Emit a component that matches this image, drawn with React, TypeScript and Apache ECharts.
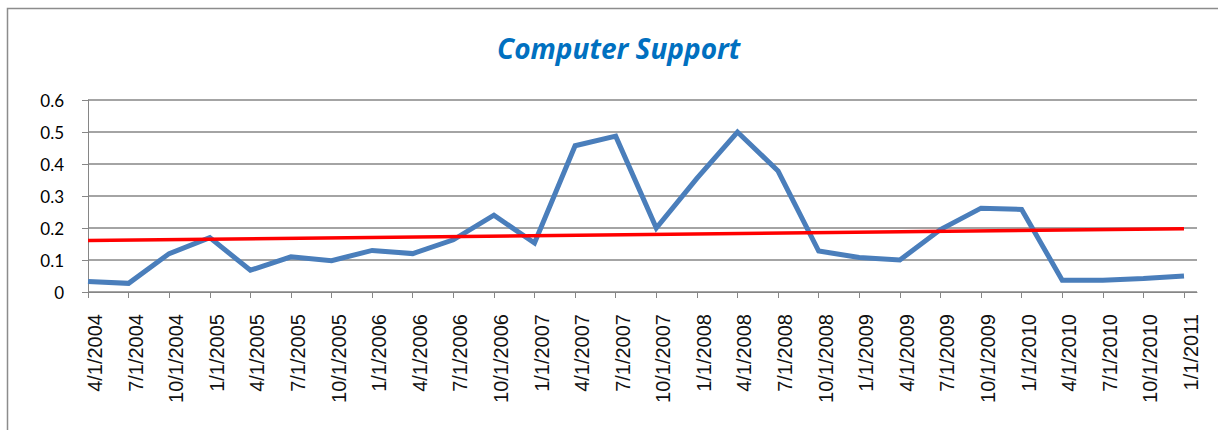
import React, { useEffect, useRef } from "react";
import * as echarts from "echarts";

const categories = [
  "4/1/2004", "7/1/2004", "10/1/2004", "1/1/2005", "4/1/2005", "7/1/2005", "10/1/2005",
  "1/1/2006", "4/1/2006", "7/1/2006", "10/1/2006", "1/1/2007", "4/1/2007", "7/1/2007",
  "10/1/2007", "1/1/2008", "4/1/2008", "7/1/2008", "10/1/2008", "1/1/2009", "4/1/2009",
  "7/1/2009", "10/1/2009", "1/1/2010", "4/1/2010", "7/1/2010", "10/1/2010", "1/1/2011",
];

const supportValues = [
  0.033, 0.027, 0.12, 0.17, 0.068, 0.11, 0.098,
  0.13, 0.12, 0.163, 0.24, 0.153, 0.457, 0.487,
  0.2, 0.355, 0.5, 0.378, 0.128, 0.108, 0.1,
  0.195, 0.262, 0.258, 0.037, 0.037, 0.042, 0.05,
];

const trendStart = 0.161;
const trendEnd = 0.198;

const yTicks = [0, 0.1, 0.2, 0.3, 0.4, 0.5, 0.6];

export default function App() {
  const ref = useRef<HTMLDivElement>(null);

  useEffect(() => {
    if (!ref.current) return;
    const chart = echarts.init(ref.current, null, { renderer: "svg" });
    const gridTop = 100;
    const gridHeight = 192;
    const left = 88;
    chart.setOption({
      animation: false,
      backgroundColor: "#ffffff",
      title: {
        text: "Computer Support",
        left: 492,
        top: 29,
        textStyle: {
          fontFamily: "'Open Sans', Lato, sans-serif",
          fontStyle: "italic",
          fontWeight: "bold",
          fontSize: 28,
          color: "#0070C0",
        },
      },
      graphic: [
        {
          type: "rect",
          shape: { x: 7.5, y: 8.5, width: 1400, height: 600 },
          style: { fill: "none", stroke: "#8c8c8c", lineWidth: 1.5 },
          silent: true,
        },
      ],
      grid: [
        { left, top: gridTop, width: 1197 - left, height: gridHeight },
        { left, top: gridTop, width: 1184 - left, height: gridHeight },
      ],
      xAxis: [
        {
          gridIndex: 0,
          type: "value",
          min: 0,
          max: 1,
          axisLine: { show: true, lineStyle: { color: "#868686", width: 1 } },
          axisTick: { show: false },
          axisLabel: { show: false },
          splitLine: { show: false },
        },
        {
          gridIndex: 1,
          type: "category",
          data: categories,
          boundaryGap: false,
          axisLine: { show: true, lineStyle: { color: "#868686", width: 1 } },
          axisTick: { show: true, length: 6, lineStyle: { color: "#868686" }, interval: 0 },
          axisLabel: {
            interval: 0,
            rotate: 90,
            margin: 22,
            verticalAlign: "top",
            lineHeight: 14,
            fontFamily: "'Liberation Sans', Arial, sans-serif",
            fontSize: 20,
            color: "#111111",
          },
          splitLine: { show: false },
        },
      ],
      yAxis: [
        {
          gridIndex: 0,
          type: "value",
          min: yTicks[0],
          max: yTicks[yTicks.length - 1],
          interval: 0.1,
          axisLine: { show: true, lineStyle: { color: "#868686", width: 1 } },
          axisTick: { show: true, length: 6, inside: false, lineStyle: { color: "#868686" } },
          axisLabel: {
            margin: 24,
            fontFamily: "Lato, 'Open Sans', sans-serif",
            fontSize: 17,
            color: "#000000",
            formatter: (v: number) => (Math.round(v * 10) / 10).toString(),
          },
          splitLine: { show: true, lineStyle: { color: "#868686", width: 1.5 } },
        },
        {
          gridIndex: 1,
          type: "value",
          min: yTicks[0],
          max: yTicks[yTicks.length - 1],
          interval: 0.1,
          show: false,
          splitLine: { show: false },
        },
      ],
      series: [
        {
          type: "line",
          xAxisIndex: 1,
          yAxisIndex: 1,
          data: supportValues,
          symbol: "none",
          lineStyle: { color: "#4A7EBB", width: 5, join: "miter" },
          z: 2,
        },
        {
          type: "line",
          xAxisIndex: 1,
          yAxisIndex: 1,
          data: [
            [0, trendStart],
            [categories.length - 1, trendEnd],
          ],
          symbol: "none",
          lineStyle: { color: "#FF0000", width: 3.5 },
          z: 3,
        },
      ],
    });
    return () => chart.dispose();
  }, []);

  return (
    <div
      ref={ref}
      style={{ position: "absolute", left: 0, top: 0, width: 1218, height: 430 }}
    />
  );
}
